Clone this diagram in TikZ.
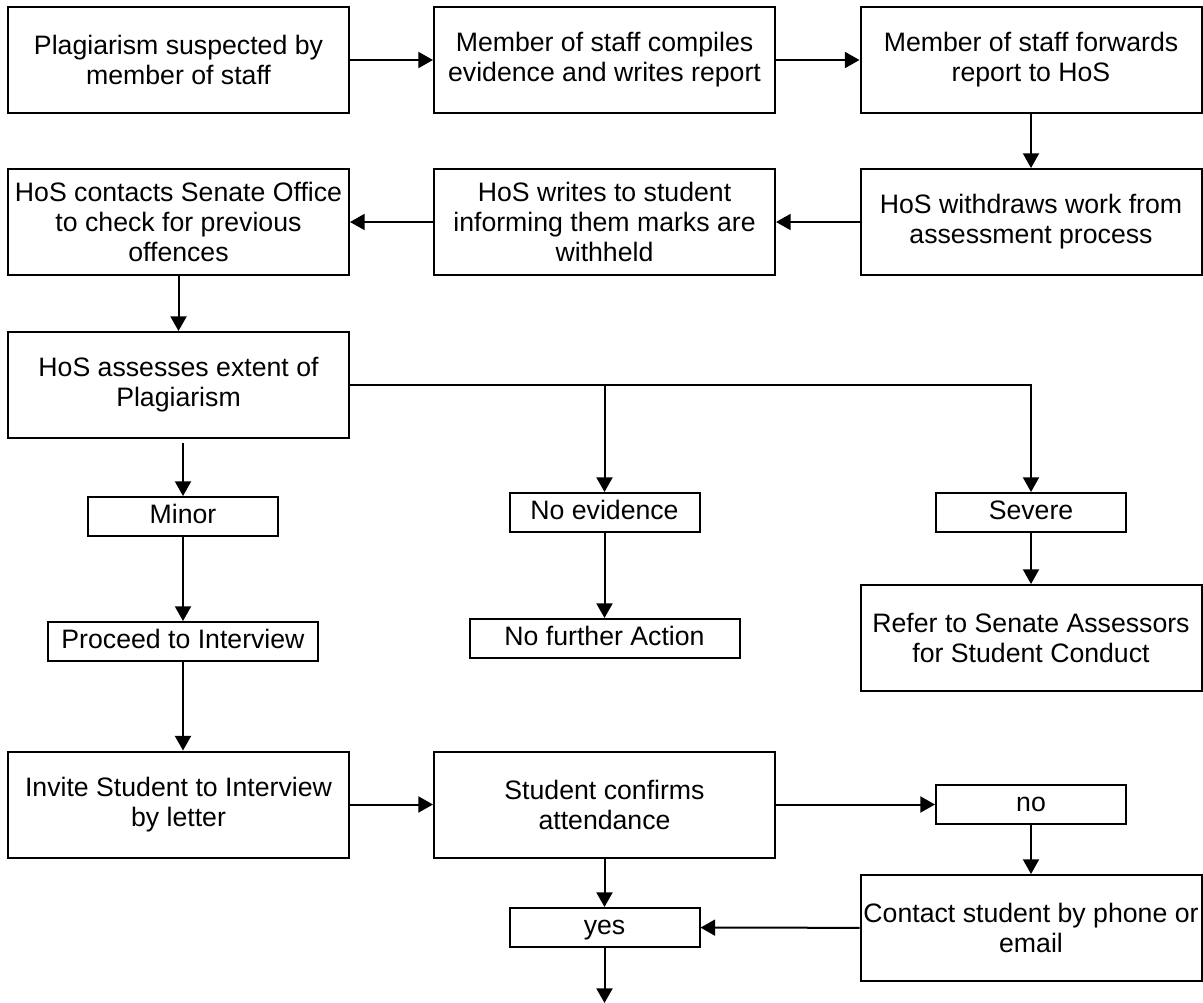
\documentclass[tikz,border=0pt]{standalone}
\usepackage{fontspec}
\setmainfont{Liberation Sans}
\usetikzlibrary{arrows.meta}
\begin{document}
\begin{tikzpicture}[x=0.75pt, y=-0.75pt,
		box/.style={draw, line width=1.5pt, align=center, inner sep=1pt, minimum width=255.75pt, minimum height=79.5pt, font=\fontsize{20}{22.5}\selectfont},
		choice/.style={box, minimum width=142.5pt, minimum height=29.25pt, text height=15pt, text depth=4.5pt},
		wide choice/.style={choice, minimum width=202.5pt},
		flow/.style={line width=1.5pt, -{Triangle[width=12pt, length=11pt]}}]
			\useasboundingbox (0,0) rectangle (1203,1003);
			\node[box] (suspect) at (178.5,60) {Plagiarism suspected by\\member of staff};
			\node[box] (compile) at (604.5,60) {Member of staff compiles\\evidence and writes report};
			\node[box] (forward) at (1031,60) {Member of staff forwards\\report to HoS};
			\node[box] (senate) at (178.5,222) {HoS contacts Senate Office\\to check for previous\\offences};
			\node[box] (inform) at (604.5,222) {HoS writes to student\\informing them marks are\\withheld};
			\node[box] (withdraw) at (1031,222) {HoS withdraws work from\\assessment process};
			\node[box] (assess) at (178.5,385) {HoS assesses extent of\\Plagiarism};
			\node[choice] (minor) at (183,516.5) {Minor};
			\node[choice] (noev) at (604.5,512.5) {No evidence};
			\node[choice] (severe) at (1031,512.5) {Severe};
			\node[wide choice] (proceed) at (183,641.5) {Proceed to Interview};
			\node[wide choice] (noaction) at (604.5,638.5) {No further Action};
			\node[box] (refer) at (1031,638) {Refer to Senate Assessors\\for Student Conduct};
			\node[box] (invite) at (178.5,804.5) {Invite Student to Interview\\by letter};
			\node[box] (confirm) at (604.5,804.5) {Student confirms\\attendance};
			\node[choice] (no) at (1031,804.5) {no};
			\node[box] (contact) at (1031,928) {Contact student by phone or\\email};
			\node[choice] (yes) at (604.5,927.5) {yes};
			\coordinate (next) at (604.5,1003);
			\foreach \from/\to in {suspect/compile, compile/forward, forward/withdraw, withdraw/inform, inform/senate, senate/assess, minor/proceed, noev/noaction, severe/refer, invite/confirm, confirm/no, no/contact, contact/yes, confirm/yes, yes/next}{
			  \draw[flow] (\from) -- (\to);
			}
			\draw[flow] ([yshift=-3pt]assess.south -| minor) -- (minor);
			\draw[flow] (proceed) -- (proceed.south |- invite.north);
			\draw[flow] (assess.east) -- (assess.east -| severe) -- (severe);
			\draw[flow] (assess.east -| noev) -- (noev);
		\end{tikzpicture}
\end{document}
